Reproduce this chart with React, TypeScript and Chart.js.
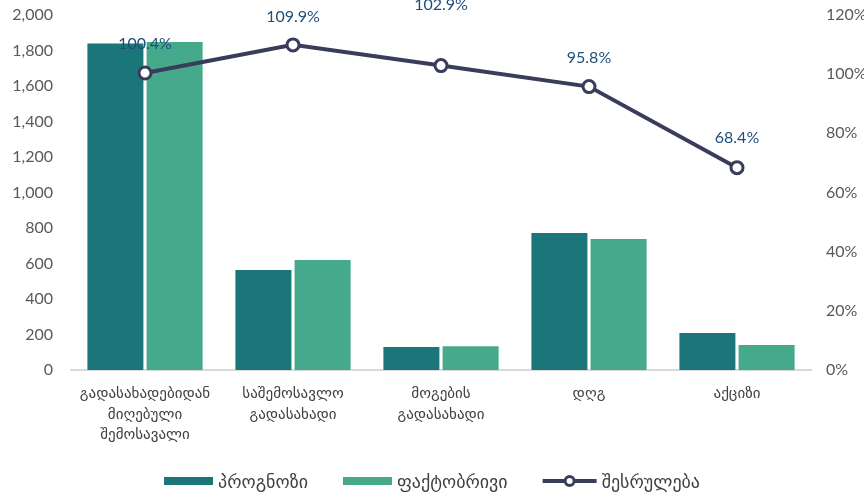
import React, { useEffect, useRef } from "react";
import { Chart, registerables } from "chart.js";

Chart.register(...registerables);

const categories: string[][] = [
  ["გადასახადებიდან", "მიღებული", "შემოსავალი"],
  ["საშემოსავლო", "გადასახადი"],
  ["მოგების", "გადასახადი"],
  ["დღგ"],
  ["აქციზი"],
];
const forecast: number[] = [1845, 569, 135, 777, 214];
const actual: number[] = [1853, 625, 139, 744, 146];
const execution: number[] = [100.4, 109.9, 102.9, 95.8, 68.4];
const seriesNames: string[] = ["პროგნოზი", "ფაქტობრივი", "შესრულება"];
const leftTicks: number[] = [0, 200, 400, 600, 800, 1000, 1200, 1400, 1600, 1800, 2000];
const rightTicks: number[] = [0, 20, 40, 60, 80, 100, 120];

const DARK = "#1b7679";
const GREEN = "#45aa8b";
const LINE = "#3a3c5c";
const LABEL = "#1f4e79";
const TICK = "#595959";
const FONT = "Lato, 'DejaVu Sans', sans-serif";
const LABEL_LIFT = [29, 28, 61, 29, 30];

const labelPlugin = {
  id: "pctLabels",
  afterDatasetsDraw(chart: any) {
    const meta = chart.getDatasetMeta(2);
    const ctx = chart.ctx;
    ctx.save();
    ctx.fillStyle = LABEL;
    ctx.font = `16px ${FONT}`;
    ctx.textAlign = "center";
    ctx.textBaseline = "middle";
    meta.data.forEach((pt: any, i: number) => {
      ctx.fillText(execution[i].toFixed(1) + "%", pt.x, pt.y - LABEL_LIFT[i]);
    });
    ctx.restore();
  },
};

const legendPlugin = {
  id: "customLegend",
  afterDraw(chart: any) {
    const ctx = chart.ctx;
    const y = 481;
    const iconW = [49, 49, 54];
    const gapIconText = 5;
    const gapItems = 35;
    ctx.save();
    ctx.font = `18px ${FONT}`;
    ctx.textBaseline = "middle";
    ctx.textAlign = "left";
    const widths = seriesNames.map((t) => ctx.measureText(t).width);
    let total = 0;
    widths.forEach((w, i) => {
      total += iconW[i] + gapIconText + w + (i < widths.length - 1 ? gapItems : 0);
    });
    let x = (chart.width - total) / 2;
    chart.data.datasets.forEach((d: any, i: number) => {
      if (i < 2) {
        ctx.fillStyle = d.backgroundColor;
        ctx.fillRect(x, y - 4, iconW[i], 8);
      } else {
        ctx.strokeStyle = LINE;
        ctx.lineWidth = 4;
        ctx.beginPath();
        ctx.moveTo(x, y);
        ctx.lineTo(x + iconW[i], y);
        ctx.stroke();
        ctx.fillStyle = "#ffffff";
        ctx.lineWidth = 3;
        ctx.beginPath();
        ctx.arc(x + iconW[i] / 2, y, 4.5, 0, Math.PI * 2);
        ctx.fill();
        ctx.stroke();
      }
      x += iconW[i] + gapIconText;
      ctx.fillStyle = "#404040";
      ctx.fillText(d.label, x, y + 1);
      x += widths[i] + gapItems;
    });
    ctx.restore();
  },
};

export default function App() {
  const ref = useRef<HTMLCanvasElement | null>(null);
  useEffect(() => {
    document.body.style.margin = "0";
    const zeroPad = (s: any) => {
      s.paddingTop = 0;
      s.paddingBottom = 0;
    };
    const chart = new Chart(ref.current!, {
      type: "bar",
      data: {
        labels: categories,
        datasets: [
          {
            type: "bar",
            label: seriesNames[0],
            data: forecast,
            backgroundColor: DARK,
            borderColor: "#ffffff",
            borderWidth: 1,
            yAxisID: "y",
            order: 2,
            barPercentage: 0.98,
            categoryPercentage: 0.8,
          },
          {
            type: "bar",
            label: seriesNames[1],
            data: actual,
            backgroundColor: GREEN,
            borderColor: "#ffffff",
            borderWidth: 1,
            yAxisID: "y",
            order: 2,
            barPercentage: 0.98,
            categoryPercentage: 0.8,
          },
          {
            type: "line",
            label: seriesNames[2],
            data: execution,
            borderColor: LINE,
            borderWidth: 4,
            pointRadius: 6,
            pointBorderWidth: 3,
            pointBackgroundColor: "#ffffff",
            pointBorderColor: LINE,
            yAxisID: "y1",
            order: 1,
          } as any,
        ],
      },
      options: {
        animation: false,
        responsive: false,
        layout: { autoPadding: false, padding: { top: 15, bottom: 0, left: 0, right: 0 } },
        scales: {
          x: {
            clip: false,
            grid: { display: false, drawTicks: false },
            border: { color: "#d9d9d9", width: 2 },
            ticks: {
              color: "#404040",
              font: { family: FONT, size: 15, lineHeight: 1.37 },
              padding: 13,
              maxRotation: 0,
              autoSkip: false,
            },
            afterFit: (s: any) => {
              s.height = 125;
              s.paddingLeft = 0;
              s.paddingRight = 0;
            },
          },
          y: {
            position: "left",
            min: 0,
            max: 2000,
            afterBuildTicks: (s: any) => {
              s.ticks = leftTicks.map((v) => ({ value: v }));
            },
            grid: { display: false, drawTicks: false },
            border: { display: false },
            ticks: {
              color: TICK,
              font: { family: FONT, size: 16 },
              padding: 18,
              callback: (v: any) => Number(v).toLocaleString("en-US"),
            },
            afterFit: (s: any) => {
              s.width = 71;
              zeroPad(s);
            },
          },
          y1: {
            position: "right",
            min: 0,
            max: 120,
            afterBuildTicks: (s: any) => {
              s.ticks = rightTicks.map((v) => ({ value: v }));
            },
            grid: { display: false, drawTicks: false },
            border: { display: false },
            ticks: {
              color: TICK,
              font: { family: FONT, size: 16 },
              padding: 15,
              callback: (v: any) => v + "%",
            },
            afterFit: (s: any) => {
              s.width = 53;
              zeroPad(s);
            },
          },
        },
        plugins: {
          tooltip: { enabled: false },
          legend: { display: false },
        },
      },
      plugins: [labelPlugin, legendPlugin],
    });
    return () => chart.destroy();
  }, []);
  return (
    <div style={{ position: "fixed", left: 0, top: 0, width: 864, height: 495, background: "#fff" }}>
      <canvas ref={ref} width={864} height={495} style={{ width: 864, height: 495 }} />
    </div>
  );
}
